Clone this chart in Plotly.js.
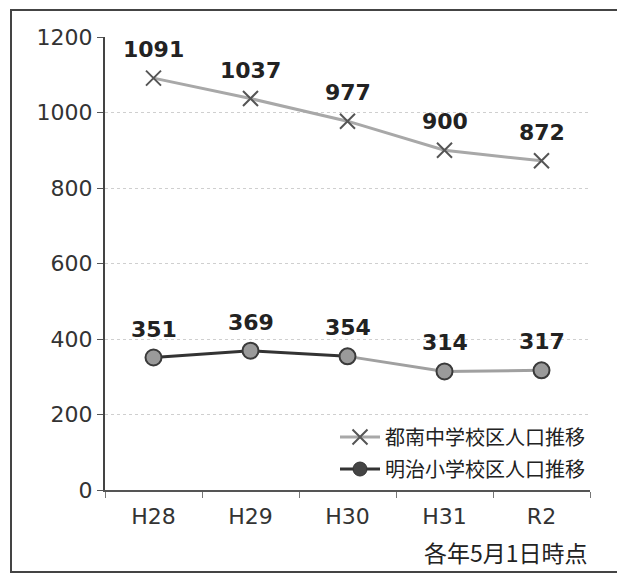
<!DOCTYPE html>
<html>
<head>
<meta charset="utf-8">
<script src="https://cdn.plot.ly/plotly-3.0.1.min.js"></script>
<style>
html,body{margin:0;padding:0;background:#fff;}
#frame{position:absolute;left:10px;top:9px;width:640px;height:560px;border-left:2px solid #444;border-top:2px solid #444;border-bottom:2px solid #444;}
#chart{position:absolute;left:0;top:0;width:617px;height:574px;}
</style>
</head>
<body>
<div id="frame"></div>
<div id="chart"></div>
<script>
const categories = ["H28", "H29", "H30", "H31", "R2"];
const tonanName = "都南中学校区人口推移";
const tonanValues = [1091, 1037, 977, 900, 872];
const meijiName = "明治小学校区人口推移";
const meijiValues = [351, 369, 354, 314, 317];
const yTicks = [0, 200, 400, 600, 800, 1000, 1200];
const footnote = "各年5月1日時点";

const traces = [
  {
    x: categories, y: tonanValues, name: tonanName, type: "scatter", mode: "lines+markers",
    legendgroup: "a",
    line: {color: "#a8a8a8", width: 3},
    marker: {symbol: "x-thin", size: 15, line: {color: "#555", width: 2}, color: "#555"}
  },
  {
    x: categories.slice(2), y: meijiValues.slice(2), name: meijiName, type: "scatter", mode: "lines",
    legendgroup: "b",
    line: {color: "#a0a0a0", width: 3}, showlegend: false, hoverinfo: "skip"
  },
  {
    x: categories.slice(0, 3), y: meijiValues.slice(0, 3), name: meijiName, type: "scatter", mode: "lines",
    legendgroup: "b",
    line: {color: "#333", width: 3}, showlegend: false, hoverinfo: "skip"
  },
  {
    x: categories, y: meijiValues, name: meijiName, type: "scatter", mode: "markers",
    legendgroup: "b", showlegend: false,
    marker: {symbol: "circle", size: 16, color: "#9a9a9a", line: {color: "#3a3a3a", width: 2}}
  },
  {
    x: [null], y: [null], name: meijiName, type: "scatter", mode: "lines+markers",
    legendgroup: "b",
    line: {color: "#333", width: 3},
    marker: {symbol: "circle", size: 14, color: "#444", line: {color: "#333", width: 1}},
    showlegend: true
  }
];

const annotations = [];
const labelFont = {family: "DejaVu Sans, Liberation Sans, Arial", size: 22, color: "#222", weight: "bold"};
categories.forEach((c, i) => {
  annotations.push({x: c, y: tonanValues[i], xref: "x", yref: "y", text: String(tonanValues[i]),
    showarrow: false, yanchor: "bottom", yshift: 14, font: labelFont});
  annotations.push({x: c, y: meijiValues[i], xref: "x", yref: "y", text: String(meijiValues[i]),
    showarrow: false, yanchor: "bottom", yshift: 14, font: labelFont});
});
annotations.push({xref: "paper", yref: "paper", x: 1, y: -0.095, xanchor: "right", yanchor: "top",
  text: footnote, showarrow: false,
  font: {family: "Noto Sans CJK JP", size: 23, color: "#222"}});

const layout = {
  width: 617, height: 574,
  margin: {l: 105, r: 27, t: 37, b: 84},
  paper_bgcolor: "rgba(0,0,0,0)", plot_bgcolor: "rgba(0,0,0,0)",
  showlegend: true,
  legend: {x: 1, xanchor: "right", y: 0.16, yanchor: "top", bgcolor: "rgba(0,0,0,0)",
    traceorder: "grouped", tracegroupgap: 3,
    font: {family: "Noto Sans CJK JP", size: 20, color: "#222"}, itemwidth: 40},
  xaxis: {
    type: "category", categoryorder: "array", categoryarray: categories,
    range: [-0.5, 4.5], showline: true, linecolor: "#555", linewidth: 2,
    ticks: "outside", tickson: "boundaries", ticklen: 6, tickcolor: "#777", tickwidth: 1,
    showgrid: false, zeroline: false, ticklabelstandoff: 6,
    tickfont: {family: "DejaVu Sans, Liberation Sans", size: 22, color: "#333"}
  },
  yaxis: {
    range: [0, 1200], tickvals: yTicks, showline: true, linecolor: "#444", linewidth: 2,
    ticks: "outside", ticklen: 6, tickcolor: "#555", tickwidth: 1,
    showgrid: true, gridcolor: "#cfcfcf", griddash: "dot", gridwidth: 1, zeroline: false,
    tickfont: {family: "DejaVu Sans, Liberation Sans", size: 22, color: "#333"}
  },
  annotations: annotations
};

Plotly.newPlot("chart", traces, layout, {displayModeBar: false, staticPlot: true});
</script>
</body>
</html>
